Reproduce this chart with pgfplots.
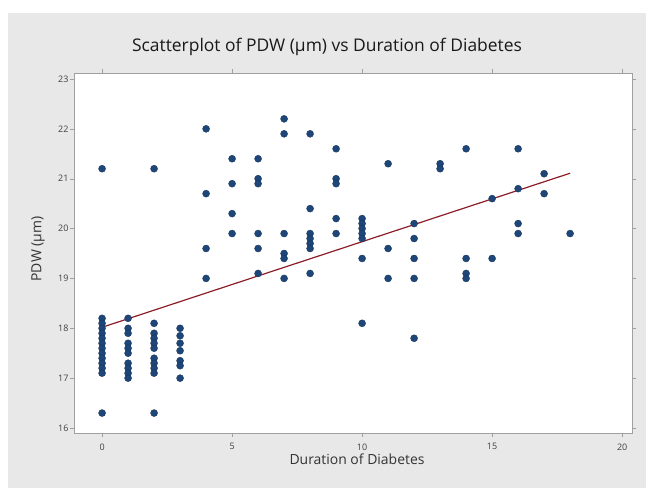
\documentclass[border=0pt]{standalone}
\usepackage{pgfplots}
\pgfplotsset{compat=1.18}
\usepackage{fontspec}
\setmainfont{Open Sans}
\definecolor{panel}{RGB}{232,232,232}
\definecolor{pt}{RGB}{30,70,120}
\definecolor{fit}{RGB}{140,30,40}
\definecolor{frame}{RGB}{160,160,160}
\begin{document}
\begin{tikzpicture}[x=1bp,y=1bp]
\fill[white] (0,0) rectangle (653,495);
\fill[panel] (8,7) rectangle (646,482);
\node[font=\fontsize{17.5}{20}\selectfont, text=black!90] at (327,448) {Scatterplot of PDW (μm) vs Duration of Diabetes};
\begin{axis}[
  at={(74bp,62bp)}, anchor=south west, scale only axis,
  width=558bp, height=360bp,
  xmin=-1.08, xmax=20.38, ymin=15.9, ymax=23.12,
  xtick={0,5,10,15,20}, ytick={16,17,18,19,20,21,22,23},
  axis background/.style={fill=white},
  axis line style={frame},
  tick align=outside, major tick length=4bp,
  tick style={frame},
  tick label style={font=\fontsize{9}{10}\selectfont, text=black!75},
  xticklabel style={yshift=-3bp},
  yticklabel style={xshift=2bp},
  /pgf/number format/assume math mode=true,
  xlabel={Duration of Diabetes}, ylabel={PDW (μm)},
  label style={font=\fontsize{14}{16}\selectfont, text=black!80},
  xlabel style={at={(axis description cs:0.5,0)}, anchor=center, yshift=-26bp, xshift=4bp},
  ylabel style={at={(axis description cs:0,0.5)}, anchor=center, xshift=4bp, yshift=36bp},
  clip=false,
]
\addplot[only marks, mark=*, mark size=3.5bp, mark options={fill=pt, draw=pt!80!black}] coordinates {
(0,21.2) (0,16.3) (0,18.2) (0,18.1) (0,18.0) (0,17.9) (0,17.8) (0,17.7) (0,17.6) (0,17.5) (0,17.4) (0,17.3) (0,17.2) (0,17.1)
(1,18.2) (1,18.0) (1,17.9) (1,17.7) (1,17.6) (1,17.5) (1,17.3) (1,17.2) (1,17.1) (1,17.0)
(2,21.2) (2,16.3) (2,18.1) (2,17.9) (2,17.8) (2,17.7) (2,17.6) (2,17.4) (2,17.3) (2,17.2) (2,17.1)
(3,18.0) (3,17.85) (3,17.7) (3,17.55) (3,17.35) (3,17.25) (3,17.0)
(4,22.0) (4,20.7) (4,19.6) (4,19.0)
(5,21.4) (5,20.9) (5,20.3) (5,19.9)
(6,21.4) (6,21.0) (6,20.9) (6,19.9) (6,19.6) (6,19.1)
(7,22.2) (7,21.9) (7,19.9) (7,19.5) (7,19.4) (7,19.0)
(8,21.9) (8,20.4) (8,19.9) (8,19.8) (8,19.7) (8,19.6) (8,19.1)
(9,21.6) (9,21.0) (9,20.9) (9,20.2) (9,19.9)
(10,20.2) (10,20.1) (10,20.0) (10,19.9) (10,19.8) (10,19.4) (10,18.1)
(11,21.3) (11,19.6) (11,19.0)
(12,20.1) (12,19.8) (12,19.4) (12,19.0) (12,17.8)
(13,21.3) (13,21.2)
(14,21.6) (14,19.4) (14,19.1) (14,19.0)
(15,20.6) (15,19.4)
(16,21.6) (16,20.8) (16,20.1) (16,19.9)
(17,21.1) (17,20.7)
(18,19.9)
};
\addplot[fit, line width=1.2bp, no marks] coordinates {(0,18.02) (18,21.11)};
\end{axis}
\end{tikzpicture}
\end{document}
